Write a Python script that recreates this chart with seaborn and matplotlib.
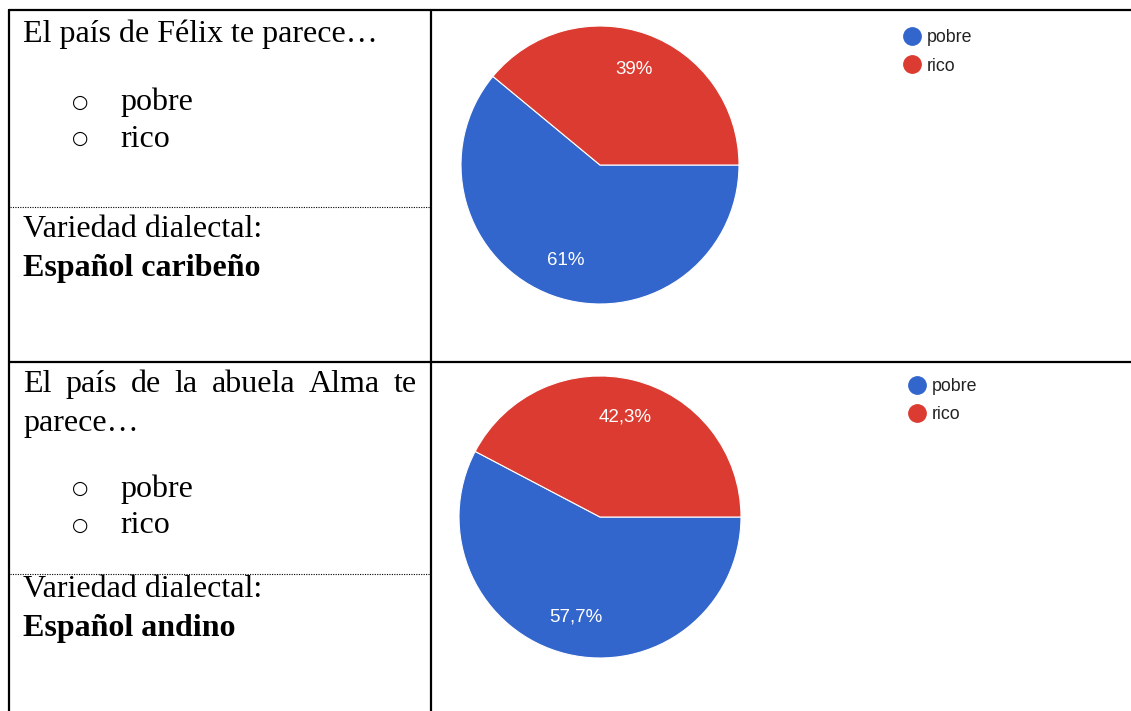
import matplotlib
matplotlib.use('Agg')
import matplotlib.pyplot as plt
from matplotlib.lines import Line2D
import seaborn as sns

# survey answers
answers = ['pobre', 'rico']
felix_pct = [61, 39]
alma_pct = [57.7, 42.3]

# left column texts
question_felix = ['El país de Félix te parece…']
question_alma = ['El país de la abuela Alma te', 'parece…']
variety_label = 'Variedad dialectal:'
variety_felix = 'Español caribeño'
variety_alma = 'Español andino'

sns.set_theme(style='white')
plt.rcParams['font.family'] = ['Liberation Sans', 'DejaVu Sans']
colors = ['#3366cc', '#db3b30']

W, H = 1131, 711
fig = plt.figure(figsize=(W / 100, H / 100), dpi=100)
bg = fig.add_axes([0, 0, 1, 1])
bg.set_xlim(0, W)
bg.set_ylim(H, 0)
bg.axis('off')

#table lines
lw = 1.6
bg.plot([9, W], [10, 10], color='black', lw=lw)
bg.plot([9, 9], [10, H], color='black', lw=lw)
bg.plot([431, 431], [10, H], color='black', lw=lw)
bg.plot([9, W], [361.5, 361.5], color='black', lw=lw)
for y in [207, 574]:
    bg.plot([10, 430], [y, y], color='black', lw=0.8, linestyle=(0, (1, 1.2)))

serif = dict(family=['Liberation Serif', 'DejaVu Serif'], fontsize=23, color='black', va='baseline')
renderer = fig.canvas.get_renderer()


def justify(words, x0, x1, y):
    texts = [bg.text(0, y, w, **serif) for w in words]
    widths = [t.get_window_extent(renderer).width for t in texts]
    gap = (x1 - x0 - sum(widths)) / (len(words) - 1)
    x = x0
    for t, w in zip(texts, widths):
        t.set_x(x)
        x += w + gap


def left_cell(question, variety, q_base, opt_base, var_base, justified):
    for i, line in enumerate(question):
        y = q_base + i * 38.5
        if justified and i < len(question) - 1:
            justify(line.split(' '), 23, 417, y)
        else:
            bg.text(23, y, line, **serif)
    for i, a in enumerate(answers):
        y = opt_base + i * 36.7
        bg.text(80, y - 8, '○', family=['DejaVu Sans'], fontsize=13.5,
                color='black', ha='center', va='center')
        bg.text(120, y, a, **serif)
    bg.text(23, var_base, variety_label, **serif)
    bg.text(23, var_base + 39, variety, **dict(serif, fontweight='bold'))


left_cell(question_felix, variety_felix, 41.7, 110, 237, False)
left_cell(question_alma, variety_alma, 392, 496.7, 596.7, True)


def fmt(p):
    p = round(p, 1)
    if p == int(p):
        return '%d%%' % p
    return ('%.1f%%' % p).replace('.', ',')


def pie_chart(values, cx, cy, r, leg_x, leg_y):
    ax = fig.add_axes([(cx - r) / W, 1 - (cy + r) / H, 2 * r / W, 2 * r / H])
    ax.pie(values, colors=colors, startangle=0, counterclock=False, autopct=fmt,
           pctdistance=0.73, wedgeprops=dict(edgecolor='white', linewidth=0.8),
           textprops=dict(color='white', fontsize=13.5))
    ax.set_xlim(-1, 1)
    ax.set_ylim(-1, 1)
    ax.set_aspect('equal')
    ax.axis('off')
    handles = [Line2D([0], [0], marker='o', linestyle='', markersize=12.5,
                      markerfacecolor=c, markeredgecolor=c) for c in colors]
    ax.legend(handles, answers, loc='upper left', bbox_to_anchor=(leg_x / W, 1 - leg_y / H),
              bbox_transform=fig.transFigure, frameon=False, fontsize=12.8, handlelength=1,
              handletextpad=0.35, labelspacing=0.63, borderpad=0, borderaxespad=0,
              labelcolor='#222222')


pie_chart(felix_pct, 600, 165, 139, 903, 29.5)
pie_chart(alma_pct, 600, 517, 141, 908, 378)

plt.savefig('out.png', dpi=100)
